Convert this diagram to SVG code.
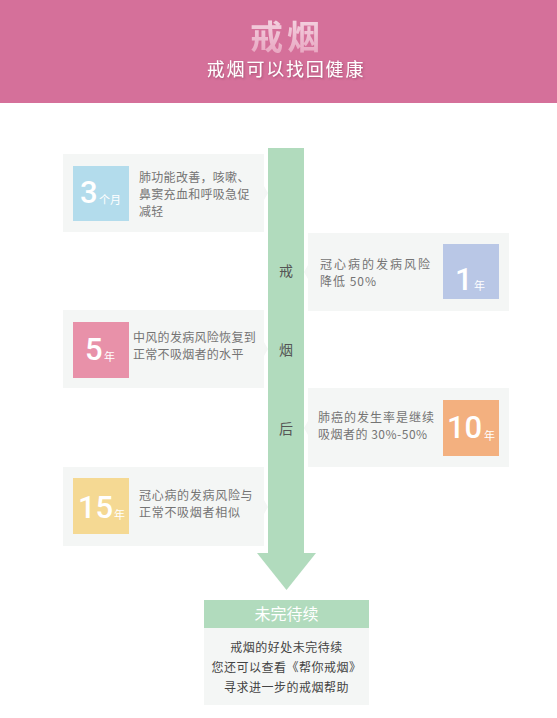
<svg xmlns="http://www.w3.org/2000/svg" width="557" height="718" viewBox="0 0 557 718">
<defs>
<style>
.card{fill:#f4f6f5}
.t{font-family:"Noto Sans CJK SC","Liberation Sans",sans-serif;font-size:12px;fill:#747474}
.num{font-family:Roboto,"Liberation Sans",sans-serif;font-size:31px;font-weight:500;fill:#fff}
.unit{font-family:"Noto Sans CJK SC",sans-serif;font-size:11px;fill:#fff}
.bar{fill:#b1dbbd}
.vt{font-family:"Noto Sans CJK SC",sans-serif;font-size:14px;fill:#555;text-anchor:middle}
.ct{font-family:"Noto Sans CJK SC",sans-serif;font-size:12px;fill:#444;text-anchor:middle;letter-spacing:0.5px}
</style>
<linearGradient id="wm" x1="0" y1="0" x2="0" y2="1">
<stop offset="0" stop-color="#fdf0f5"/>
<stop offset="1" stop-color="#eaa9c3"/>
</linearGradient>
<filter id="sh" x="-10%" y="-30%" width="120%" height="160%">
<feDropShadow dx="1" dy="1" stdDeviation="1" flood-color="#7a2e4c" flood-opacity="0.5"/>
</filter>
</defs>
<rect width="557" height="718" fill="#ffffff"/>
<g id="header">
<rect x="0" y="0" width="557" height="103" fill="#d5709a"/>
<text x="287" y="49" text-anchor="middle" font-family="Noto Sans CJK SC,sans-serif" font-size="33" font-weight="bold" letter-spacing="4" fill="url(#wm)" opacity="0.85">戒烟</text>
<text x="286" y="76" text-anchor="middle" font-family="Noto Sans CJK SC,sans-serif" font-size="18" letter-spacing="1.8" fill="#ffffff" filter="url(#sh)">戒烟可以找回健康</text>
</g>
<g id="timeline">
<rect class="bar" x="268" y="148" width="36" height="405"/>
<polygon class="bar" points="257,553 316,553 286.5,590"/>
<text class="vt" x="286" y="276">戒</text>
<text class="vt" x="286" y="355">烟</text>
<text class="vt" x="286" y="434">后</text>
</g>
<g id="connectors">
<polygon class="card" points="264,186 268,193 264,200"/>
<polygon class="card" points="308,265 304,272 308,279"/>
<polygon class="card" points="264,342 268,349 264,356"/>
<polygon class="card" points="308,421 304,428 308,435"/>
<polygon class="card" points="264,500 268,507 264,514"/>
</g>
<g id="card-3m">
<rect class="card" x="63" y="154" width="201" height="78"/>
<rect x="73" y="166" width="56" height="55" fill="#b3dcec"/>
<text class="num" x="80" y="203">3</text>
<text class="unit" x="99" y="204">个月</text>
<text class="t" x="139" y="182" letter-spacing="0.3">肺功能改善，咳嗽、</text>
<text class="t" x="139" y="199" letter-spacing="0.3">鼻窦充血和呼吸急促</text>
<text class="t" x="139" y="216" letter-spacing="0.3">减轻</text>
</g>
<g id="card-1y">
<rect class="card" x="308" y="233" width="201" height="78"/>
<rect x="443" y="244" width="56" height="55" fill="#b9c7e6"/>
<text class="num" x="455" y="290">1</text>
<text class="unit" x="474" y="290">年</text>
<text class="t" x="320" y="269" letter-spacing="2">冠心病的发病风险</text>
<text class="t" x="320" y="286" letter-spacing="1">降低 50%</text>
</g>
<g id="card-5y">
<rect class="card" x="63" y="310" width="201" height="78"/>
<rect x="73" y="322" width="56" height="56" fill="#e891a9"/>
<text class="num" x="85" y="360">5</text>
<text class="unit" x="104" y="361">年</text>
<text class="t" x="133" y="342" letter-spacing="0.3">中风的发病风险恢复到</text>
<text class="t" x="133" y="359" letter-spacing="0.3">正常不吸烟者的水平</text>
</g>
<g id="card-10y">
<rect class="card" x="308" y="388" width="201" height="79"/>
<rect x="443" y="400" width="56" height="56" fill="#f3b07f"/>
<text class="num" x="447" y="438">10</text>
<text class="unit" x="484" y="440">年</text>
<text class="t" x="318" y="422" letter-spacing="1">肺癌的发生率是继续</text>
<text class="t" x="318" y="439" letter-spacing="0.5">吸烟者的 30%-50%</text>
</g>
<g id="card-15y">
<rect class="card" x="63" y="467" width="201" height="79"/>
<rect x="73" y="478" width="56" height="56" fill="#f5d993"/>
<text class="num" x="78" y="518">15</text>
<text class="unit" x="114" y="519">年</text>
<text class="t" x="139" y="500" letter-spacing="0.7">冠心病的发病风险与</text>
<text class="t" x="139" y="517" letter-spacing="0.7">正常不吸烟者相似</text>
</g>
<g id="footer">
<rect x="204" y="600" width="165" height="28" fill="#b1dbbd"/>
<text x="286.5" y="620" text-anchor="middle" font-family="Noto Sans CJK SC,sans-serif" font-size="16" fill="#ffffff">未完待续</text>
<rect class="card" x="204" y="628" width="165" height="77"/>
<text class="ct" x="286.5" y="652">戒烟的好处未完待续</text>
<text class="ct" x="286.5" y="672">您还可以查看《帮你戒烟》</text>
<text class="ct" x="286.5" y="692">寻求进一步的戒烟帮助</text>
</g>
</svg>
